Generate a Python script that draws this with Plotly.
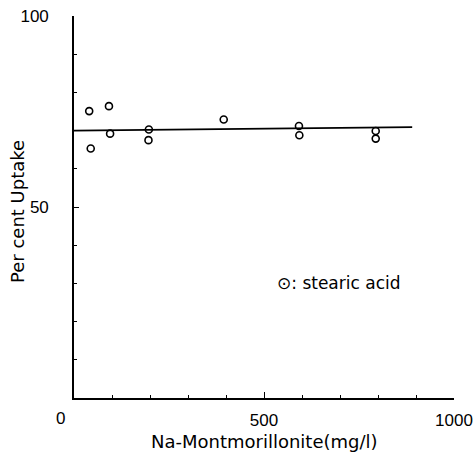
import plotly.graph_objects as go

# Data
clay_mg_l = [40, 44, 92, 95, 197, 196, 394, 592, 593, 794, 794]
uptake_pct = [75.1, 65.3, 76.4, 69.2, 70.3, 67.5, 72.9, 71.2, 68.8, 69.9, 67.9]
fit_x = [0, 890]
fit_y = [70.0, 70.9]
x_tick_vals = [0, 500, 1000]
x_tick_text = ["", "500", "1000"]
y_tick_vals = [50, 100]
y_tick_text = ["50", "100"]

FONT = "DejaVu Sans"
TICKFONT = "Liberation Sans"

fig = go.Figure()
fig.add_trace(go.Scatter(x=fit_x, y=fit_y, mode="lines",
                         line=dict(color="black", width=1.6), showlegend=False,
                         cliponaxis=False))
fig.add_trace(go.Scatter(x=clay_mg_l, y=uptake_pct, mode="markers",
                         marker=dict(symbol="circle-open", size=7, color="black",
                                     line=dict(width=1.6, color="black")),
                         showlegend=False, cliponaxis=False))

fig.add_annotation(x=0, y=0, xref="x", yref="y", text="0", showarrow=False,
                   xanchor="center", yanchor="middle", xshift=-14, yshift=-20,
                   font=dict(family=TICKFONT, size=17, color="black"))
fig.add_annotation(x=530, y=30, xref="x", yref="y", text="⊙: stearic acid",
                   showarrow=False, xanchor="left", yanchor="middle",
                   font=dict(family=FONT, size=17, color="black"))
fig.add_annotation(x=0, y=0.5, xref="paper", yref="paper", text="Per cent Uptake",
                   showarrow=False, xanchor="center", yanchor="middle",
                   textangle=-90, xshift=-57, yshift=-5,
                   font=dict(family=FONT, size=18, color="black"))
fig.add_annotation(x=0.5, y=0, xref="paper", yref="paper",
                   text="Na-Montmorillonite(mg/l)",
                   showarrow=False, xanchor="center", yanchor="middle",
                   yshift=-43, font=dict(family=FONT, size=18, color="black"))

fig.update_layout(
    width=476, height=455,
    margin=dict(l=74, r=22, t=16, b=57),
    plot_bgcolor="white", paper_bgcolor="white",
    font=dict(family=FONT, size=16, color="black"),
)
fig.update_xaxes(range=[0, 1000], showgrid=False, zeroline=False, automargin=False,
                 showline=True, linecolor="black", linewidth=1.6,
                 tickvals=x_tick_vals, ticktext=x_tick_text,
                 ticks="inside", ticklen=6, tickwidth=1.4, tickcolor="black",
                 ticklabelstandoff=6, tickfont=dict(family=TICKFONT, size=17),
                 minor=dict(dtick=100, ticks="inside", ticklen=3, tickwidth=1.2, tickcolor="black"))
fig.update_yaxes(range=[0, 100], showgrid=False, zeroline=False, automargin=False,
                 showline=True, linecolor="black", linewidth=1.6,
                 tickvals=y_tick_vals, ticktext=y_tick_text,
                 ticks="inside", ticklen=5, tickwidth=1.4, tickcolor="black",
                 ticklabelstandoff=20, tickfont=dict(family=TICKFONT, size=17),
                 minor=dict(dtick=10, ticks="inside", ticklen=3, tickwidth=1.2, tickcolor="black"))

fig.write_html("out.html")
